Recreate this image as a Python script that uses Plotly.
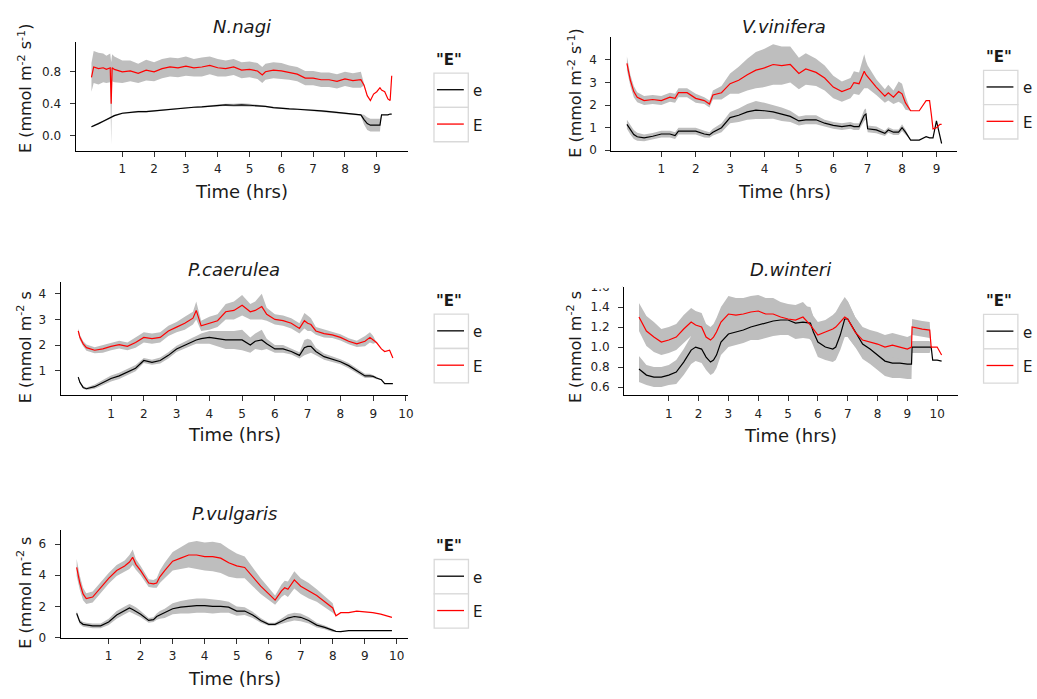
import plotly.graph_objects as go

W, H = 1037, 699
FONT = "DejaVu Sans"
RED = "#FF0000"
RIBBON = "#BEBEBE"

# ---------------- data ----------------
# N.nagi
nagi_t = [0.03, 0.1, 0.25, 0.4, 0.5, 0.62, 0.65, 0.68, 0.75, 1.0, 1.25, 1.5, 1.75, 2.0, 2.25, 2.5, 2.75, 3.0,
          3.25, 3.5, 3.75, 4.0, 4.25, 4.5, 4.75, 5.0, 5.25, 5.4, 5.5, 5.75, 6.0, 6.25, 6.5, 6.75, 7.0, 7.25,
          7.5, 7.75, 8.0, 8.25, 8.5, 8.6, 8.7, 8.8, 8.9, 9.0, 9.1, 9.15, 9.25, 9.35, 9.42, 9.47]
nagi_E = [0.73, 0.86, 0.84, 0.85, 0.83, 0.85, 0.40, 0.85, 0.83, 0.80, 0.81, 0.78, 0.82, 0.80, 0.84, 0.86, 0.85,
          0.87, 0.85, 0.86, 0.88, 0.85, 0.84, 0.86, 0.82, 0.83, 0.81, 0.76, 0.80, 0.82, 0.81, 0.79, 0.77, 0.72,
          0.72, 0.70, 0.70, 0.68, 0.71, 0.69, 0.70, 0.63, 0.50, 0.44, 0.52, 0.55, 0.60, 0.57, 0.55, 0.46, 0.44, 0.75]
nagi_E_sd = [0.18, 0.2, 0.2, 0.18, 0.17, 0.18, 0.52, 0.17, 0.16, 0.14, 0.13, 0.12, 0.13, 0.12, 0.12, 0.12, 0.12,
             0.12, 0.11, 0.12, 0.11, 0.11, 0.10, 0.10, 0.10, 0.10, 0.10, 0.10, 0.10, 0.10, 0.10, 0.09, 0.09, 0.09,
             0.09, 0.09, 0.09, 0.09, 0.09, 0.09, 0.10, 0, 0, 0, 0, 0, 0, 0, 0, 0, 0, 0]
nagi_e = [0.11, 0.12, 0.15, 0.18, 0.20, 0.22, 0.23, 0.24, 0.25, 0.28, 0.29, 0.30, 0.30, 0.31, 0.32, 0.33, 0.34,
          0.35, 0.355, 0.36, 0.37, 0.38, 0.385, 0.38, 0.385, 0.38, 0.375, 0.37, 0.365, 0.35, 0.34, 0.335, 0.33,
          0.325, 0.32, 0.31, 0.30, 0.29, 0.28, 0.27, 0.26, 0.20, 0.15, 0.13, 0.13, 0.13, 0.13, 0.26, 0.26, 0.26,
          0.27, 0.27]
nagi_e_sd = [0.01, 0.01, 0.01, 0.01, 0.01, 0.01, 0.01, 0.01, 0.01, 0.01, 0.01, 0.01, 0.01, 0.01, 0.01, 0.01, 0.01,
             0.01, 0.01, 0.01, 0.01, 0.015, 0.015, 0.02, 0.02, 0.02, 0.015, 0.01, 0.01, 0.01, 0.01, 0.01, 0.01,
             0.01, 0.01, 0.01, 0.01, 0.01, 0.01, 0.01, 0.01, 0.06, 0.08, 0.08, 0.08, 0.08, 0.08, 0, 0, 0, 0, 0]
nagi_xticks = [1, 2, 3, 4, 5, 6, 7, 8, 9]
nagi_yticks = [0.0, 0.4, 0.8]
nagi_yticklabels = ["0.0", "0.4", "0.8"]

# V.vinifera
vin_t = [0, 0.1, 0.2, 0.3, 0.5, 0.75, 1.0, 1.25, 1.4, 1.5, 1.75, 2.0, 2.25, 2.4, 2.5, 2.75, 3.0, 3.25, 3.5, 3.75,
         4.0, 4.25, 4.5, 4.75, 5.0, 5.2, 5.5, 5.75, 6.0, 6.25, 6.5, 6.6, 6.75, 6.9, 6.95, 7.0, 7.25, 7.5, 7.6,
         7.75, 7.9, 8.0, 8.1, 8.25, 8.5, 8.7, 8.8, 8.85, 8.9, 9.0, 9.05, 9.1, 9.15]
vin_E = [3.85, 3.1, 2.6, 2.35, 2.2, 2.25, 2.2, 2.35, 2.3, 2.55, 2.55, 2.3, 2.2, 2.05, 2.45, 2.55, 2.95, 3.1, 3.35,
         3.55, 3.65, 3.8, 3.75, 3.8, 3.4, 3.6, 3.45, 3.2, 2.8, 2.6, 2.75, 3.0, 2.95, 3.5, 3.35, 3.25, 2.8, 2.4,
         2.55, 2.35, 2.6, 2.5, 2.1, 1.75, 1.75, 2.2, 2.2, 1.6, 0.95, 1.0, 1.1, 1.15, 1.15]
vin_E_sd = [0.3, 0.25, 0.25, 0.22, 0.2, 0.2, 0.2, 0.2, 0.2, 0.2, 0.2, 0.2, 0.15, 0.15, 0.2, 0.3, 0.45, 0.6, 0.7,
            0.8, 0.85, 0.9, 0.85, 0.8, 0.7, 0.7, 0.6, 0.55, 0.5, 0.45, 0.45, 0.5, 0.5, 0.75, 0.6, 0.5, 0.35, 0.3,
            0.35, 0.3, 0.45, 0.45, 0.3, 0, 0, 0, 0, 0, 0, 0, 0, 0, 0]
vin_e = [1.15, 0.9, 0.7, 0.6, 0.55, 0.62, 0.72, 0.72, 0.65, 0.85, 0.85, 0.85, 0.72, 0.68, 0.8, 1.0, 1.45, 1.55,
         1.7, 1.78, 1.75, 1.7, 1.6, 1.5, 1.3, 1.35, 1.35, 1.2, 1.1, 1.05, 1.1, 1.05, 1.05, 1.55, 1.6, 0.95, 0.9,
         0.75, 0.9, 0.8, 0.8, 1.0, 0.8, 0.45, 0.45, 0.6, 0.55, 0.55, 0.55, 1.3, 1.0, 0.6, 0.3]
vin_e_sd = [0.2, 0.2, 0.2, 0.18, 0.15, 0.15, 0.15, 0.15, 0.15, 0.15, 0.15, 0.15, 0.15, 0.12, 0.15, 0.2, 0.25, 0.3,
            0.35, 0.4, 0.35, 0.3, 0.3, 0.25, 0.2, 0.2, 0.2, 0.15, 0.15, 0.15, 0.15, 0.15, 0.15, 0.25, 0.25, 0.15,
            0.15, 0.12, 0.12, 0.12, 0.12, 0.15, 0.12, 0, 0, 0, 0, 0, 0, 0, 0, 0, 0]
vin_xticks = [1, 2, 3, 4, 5, 6, 7, 8, 9]
vin_yticks = [0, 1, 2, 3, 4]
vin_yticklabels = ["0", "1", "2", "3", "4"]

# P.caerulea
cae_t = [0, 0.05, 0.15, 0.25, 0.5, 0.75, 1.0, 1.25, 1.5, 1.75, 2.0, 2.25, 2.5, 2.75, 3.0, 3.25, 3.5, 3.6, 3.75,
         4.0, 4.25, 4.5, 4.75, 5.0, 5.25, 5.4, 5.6, 5.75, 6.0, 6.25, 6.5, 6.75, 6.9, 7.0, 7.1, 7.25, 7.5, 7.75,
         8.0, 8.25, 8.5, 8.75, 8.9, 9.0, 9.1, 9.25, 9.35, 9.5, 9.6]
cae_E = [2.55, 2.3, 2.05, 1.9, 1.8, 1.85, 1.95, 2.02, 1.95, 2.1, 2.3, 2.25, 2.3, 2.55, 2.7, 2.85, 3.05, 3.35, 2.75,
         2.85, 2.95, 3.3, 3.35, 3.55, 3.3, 3.35, 3.5, 3.2, 3.0, 2.95, 2.85, 2.65, 2.95, 2.85, 2.8, 2.55, 2.45, 2.4,
         2.3, 2.15, 2.05, 2.15, 2.3, 2.2, 2.1, 1.85, 1.75, 1.8, 1.5]
cae_E_sd = [0.1, 0.1, 0.1, 0.12, 0.12, 0.15, 0.15, 0.15, 0.15, 0.2, 0.2, 0.2, 0.2, 0.2, 0.2, 0.25, 0.25, 0.35, 0.2,
            0.25, 0.25, 0.3, 0.35, 0.4, 0.3, 0.35, 0.5, 0.25, 0.2, 0.2, 0.2, 0.2, 0.3, 0.3, 0.25, 0.15, 0.15, 0.12,
            0.12, 0.12, 0.12, 0.2, 0.2, 0.15, 0, 0, 0, 0, 0]
cae_e = [0.75, 0.55, 0.35, 0.3, 0.38, 0.55, 0.7, 0.8, 0.95, 1.1, 1.4, 1.33, 1.4, 1.6, 1.85, 2.0, 2.15, 2.2, 2.25,
         2.3, 2.25, 2.2, 2.2, 2.2, 2.0, 2.15, 2.2, 2.05, 1.85, 1.85, 1.75, 1.6, 1.9, 1.95, 1.95, 1.75, 1.55, 1.45,
         1.35, 1.2, 1.0, 0.8, 0.8, 0.78, 0.72, 0.65, 0.5, 0.5, 0.5]
cae_e_sd = [0.05, 0.05, 0.05, 0.05, 0.08, 0.1, 0.12, 0.12, 0.12, 0.12, 0.1, 0.1, 0.12, 0.12, 0.12, 0.15, 0.15,
            0.15, 0.2, 0.25, 0.3, 0.35, 0.35, 0.4, 0.3, 0.3, 0.4, 0.2, 0.15, 0.15, 0.12, 0.12, 0.3, 0.3, 0.25,
            0.15, 0.12, 0.12, 0.1, 0.1, 0.1, 0.08, 0.08, 0.06, 0.05, 0, 0, 0, 0]
cae_xticks = [1, 2, 3, 4, 5, 6, 7, 8, 9, 10]
cae_yticks = [1, 2, 3, 4]
cae_yticklabels = ["1", "2", "3", "4"]

# D.winteri
win_t = [0, 0.25, 0.5, 0.75, 1.0, 1.25, 1.5, 1.75, 1.9, 2.1, 2.25, 2.4, 2.5, 2.6, 2.75, 3.0, 3.25, 3.5, 3.75, 4.0,
         4.25, 4.5, 4.75, 5.0, 5.25, 5.5, 5.75, 5.85, 6.0, 6.25, 6.5, 6.6, 6.75, 6.9, 7.0, 7.25, 7.5, 7.75, 8.0,
         8.25, 8.5, 8.75, 9.0, 9.14, 9.16, 9.5, 9.75, 9.8, 9.85, 10.0, 10.15]
win_E = [1.30, 1.16, 1.10, 1.05, 1.07, 1.10, 1.18, 1.25, 1.22, 1.20, 1.10, 1.07, 1.10, 1.15, 1.25, 1.33, 1.32,
         1.33, 1.35, 1.36, 1.33, 1.33, 1.30, 1.28, 1.27, 1.30, 1.22, 1.18, 1.12, 1.15, 1.18, 1.20, 1.25, 1.30,
         1.28, 1.15, 1.07, 1.05, 1.03, 1.00, 1.02, 1.00, 0.98, 1.00, 1.20, 1.18, 1.17, 1.00, 1.00, 1.00, 0.92]
win_E_sd = [0.14, 0.15, 0.15, 0.13, 0.13, 0.13, 0.14, 0.14, 0.14, 0.14, 0.13, 0.13, 0.13, 0.14, 0.15, 0.18, 0.17,
            0.16, 0.16, 0.16, 0.16, 0.16, 0.15, 0.15, 0.15, 0.15, 0.15, 0.13, 0.13, 0.12, 0.14, 0.15, 0.18, 0.2,
            0.18, 0.15, 0.13, 0.12, 0.12, 0.12, 0.12, 0.12, 0.12, 0.12, 0.08, 0.08, 0.08, 0, 0, 0, 0]
win_e = [0.78, 0.72, 0.70, 0.70, 0.72, 0.75, 0.85, 0.97, 1.00, 0.98, 0.90, 0.85, 0.87, 0.92, 1.05, 1.13, 1.15,
         1.17, 1.20, 1.22, 1.24, 1.26, 1.27, 1.27, 1.24, 1.25, 1.24, 1.15, 1.05, 1.00, 0.98, 1.00, 1.12, 1.28,
         1.28, 1.15, 1.03, 0.98, 0.92, 0.86, 0.84, 0.84, 0.83, 0.83, 1.00, 1.00, 1.00, 1.00, 0.87, 0.87, 0.86]
win_e_sd = [0.13, 0.1, 0.1, 0.1, 0.1, 0.12, 0.13, 0.14, 0.14, 0.14, 0.13, 0.13, 0.13, 0.13, 0.13, 0.13, 0.13,
            0.13, 0.13, 0.15, 0.15, 0.15, 0.15, 0.15, 0.16, 0.16, 0.16, 0.15, 0.15, 0.13, 0.13, 0.13, 0.15, 0.18,
            0.18, 0.15, 0.15, 0.15, 0.15, 0.15, 0.15, 0.15, 0.15, 0.15, 0.06, 0.06, 0.06, 0, 0, 0, 0]
win_xticks = [1, 2, 3, 4, 5, 6, 7, 8, 9, 10]
win_yticks = [0.6, 0.8, 1.0, 1.2, 1.4, 1.6]
win_yticklabels = ["0.6", "0.8", "1.0", "1.2", "1.4", "1.6"]

# P.vulgaris
vul_t = [0, 0.1, 0.2, 0.3, 0.5, 0.75, 1.0, 1.25, 1.5, 1.65, 1.75, 1.85, 2.0, 2.25, 2.4, 2.5, 2.6, 2.75, 3.0, 3.25,
         3.5, 3.75, 4.0, 4.25, 4.5, 4.75, 5.0, 5.25, 5.5, 5.75, 6.0, 6.2, 6.4, 6.5, 6.6, 6.8, 7.0, 7.25, 7.5, 7.75,
         8.0, 8.1, 8.25, 8.5, 8.75, 9.0, 9.25, 9.5, 9.75, 9.85]
vul_E = [4.5, 3.5, 2.8, 2.5, 2.6, 3.2, 3.8, 4.3, 4.6, 4.85, 5.15, 4.7, 4.3, 3.5, 3.45, 3.5, 3.9, 4.3, 4.9, 5.1,
         5.3, 5.3, 5.2, 5.2, 5.1, 4.8, 4.6, 4.5, 3.9, 3.3, 2.8, 2.4, 3.0, 3.2, 3.1, 3.7, 3.3, 3.0, 2.7, 2.3, 1.9,
         1.4, 1.6, 1.6, 1.7, 1.65, 1.6, 1.5, 1.35, 1.3]
vul_E_sd = [0.55, 0.45, 0.4, 0.35, 0.35, 0.35, 0.35, 0.35, 0.35, 0.45, 0.5, 0.35, 0.3, 0.25, 0.25, 0.3, 0.4, 0.5,
            0.6, 0.7, 0.8, 0.9, 0.9, 0.95, 0.95, 0.9, 0.8, 0.7, 0.6, 0.5, 0.4, 0.3, 0.4, 0.45, 0.5, 0.55, 0.5, 0.5,
            0.4, 0.35, 0.3, 0, 0, 0, 0, 0, 0, 0, 0, 0]
vul_e = [1.55, 1.0, 0.85, 0.8, 0.75, 0.75, 1.0, 1.45, 1.75, 1.9, 1.8, 1.7, 1.5, 1.1, 1.15, 1.35, 1.45, 1.55, 1.85,
         1.95, 2.0, 2.05, 2.05, 2.0, 2.0, 1.95, 1.7, 1.7, 1.45, 1.1, 0.85, 0.85, 1.05, 1.15, 1.25, 1.35, 1.3, 1.1,
         0.8, 0.65, 0.45, 0.4, 0.38, 0.45, 0.45, 0.45, 0.45, 0.45, 0.45, 0.45]
vul_e_sd = [0.15, 0.15, 0.15, 0.15, 0.15, 0.15, 0.2, 0.25, 0.25, 0.25, 0.25, 0.25, 0.2, 0.15, 0.15, 0.2, 0.25, 0.3,
            0.35, 0.4, 0.45, 0.45, 0.45, 0.45, 0.4, 0.35, 0.3, 0.25, 0.2, 0.15, 0.1, 0.1, 0.15, 0.2, 0.25, 0.25,
            0.25, 0.2, 0.15, 0.12, 0.1, 0, 0, 0, 0, 0, 0, 0, 0, 0]
vul_xticks = [1, 2, 3, 4, 5, 6, 7, 8, 9, 10]
vul_yticks = [0, 2, 4, 6]
vul_yticklabels = ["0", "2", "4", "6"]

series_names = ["e", "E"]
series_colors = ["black", RED]

YT_FULL = "E (mmol m<sup>-2</sup> s<sup>-1</sup>)"
YT_CUT = "E (mmol m<sup>-2</sup> s"

# ---------------- layout (pixel boxes) ----------------
panels = [
    dict(title="N.nagi", t=nagi_t, e=nagi_e, esd=nagi_e_sd, E=nagi_E, Esd=nagi_E_sd,
         px=(76, 410), py=(36.7, 147.7), xr=(-0.47, 9.97), yr=(-0.193, 1.173),
         xt=nagi_xticks, yt=nagi_yticks, ytl=nagi_yticklabels,
         ytitle=YT_FULL, ytx=25, ytb=152, xty=189.5, tty=21, leg=(436.5, 68.3)),
    dict(title="V.vinifera", t=vin_t, e=vin_e, esd=vin_e_sd, E=vin_E, Esd=vin_E_sd,
         px=(615, 963), py=(32, 147.7), xr=(-0.45, 9.61), yr=(-0.03, 5.0),
         xt=vin_xticks, yt=vin_yticks, ytl=vin_yticklabels,
         ytitle=YT_FULL, ytx=578, ytb=157, xty=189.5, tty=21, leg=(989.3, 65.5)),
    dict(title="P.caerulea", t=cae_t, e=cae_e, esd=cae_e_sd, E=cae_E, Esd=cae_E_sd,
         px=(61, 410), py=(281.7, 396.7), xr=(-0.537, 10.05), yr=(0.043, 4.44),
         xt=cae_xticks, yt=cae_yticks, ytl=cae_yticklabels,
         ytitle=YT_CUT, ytx=25, ytb=407, xty=437, tty=269, leg=(436.7, 314)),
    dict(title="D.winteri", t=win_t, e=win_e, esd=win_e_sd, E=win_E, Esd=win_E_sd,
         px=(627.7, 963.3), py=(286, 396.7), xr=(-0.5, 10.69), yr=(0.518, 1.603),
         xt=win_xticks, yt=win_yticks, ytl=win_yticklabels,
         ytitle=YT_CUT, ytx=578, ytb=407, xty=438, tty=269, leg=(989.3, 314.3)),
    dict(title="P.vulgaris", t=vul_t, e=vul_e, esd=vul_e_sd, E=vul_E, Esd=vul_E_sd,
         px=(61, 410), py=(534, 644), xr=(-0.5, 10.34), yr=(-0.03, 6.9),
         xt=vul_xticks, yt=vul_yticks, ytl=vul_yticklabels,
         ytitle=YT_CUT, ytx=25, ytb=657, xty=685.5, tty=517, leg=(436.7, 564)),
]


def fx(p):
    return p / W


def fy(p):
    return 1 - p / H


fig = go.Figure()
annotations = []
shapes = []
layout_axes = {}

for i, p in enumerate(panels, start=1):
    xa = "x" if i == 1 else f"x{i}"
    ya = "y" if i == 1 else f"y{i}"
    t = p["t"]
    for mean, sd in ((p["e"], p["esd"]), (p["E"], p["Esd"])):
        assert len(mean) == len(t) and len(sd) == len(t), (p["title"], len(t), len(mean), len(sd))
        upper = [m + s for m, s in zip(mean, sd)]
        lower = [m - s for m, s in zip(mean, sd)]
        fig.add_trace(go.Scatter(x=list(t) + list(t)[::-1], y=upper + lower[::-1],
                                 fill="toself", fillcolor=RIBBON, line=dict(width=0),
                                 mode="lines", hoverinfo="skip", showlegend=False,
                                 xaxis=xa, yaxis=ya))
    for name, color, mean in zip(series_names, series_colors, (p["e"], p["E"])):
        fig.add_trace(go.Scatter(x=t, y=mean, mode="lines", name=name,
                                 line=dict(color=color, width=1.2), showlegend=False,
                                 xaxis=xa, yaxis=ya))

    axis_common = dict(showgrid=False, zeroline=False, showline=True, linecolor="black", linewidth=1.1,
                       ticks="outside", ticklen=5, tickwidth=1, tickcolor="#333333",
                       tickfont=dict(family=FONT, size=12, color="#222222"), fixedrange=True)
    layout_axes["xaxis" if i == 1 else f"xaxis{i}"] = dict(
        domain=[fx(p["px"][0]), fx(p["px"][1])], range=list(p["xr"]), anchor=ya,
        tickmode="array", tickvals=p["xt"], ticktext=[str(v) for v in p["xt"]],
        ticklabelstandoff=2, **axis_common)
    layout_axes["yaxis" if i == 1 else f"yaxis{i}"] = dict(
        domain=[fy(p["py"][1]), fy(p["py"][0])], range=list(p["yr"]), anchor=xa,
        tickmode="array", tickvals=p["yt"], ticktext=p["ytl"],
        ticklabelstandoff=6, **axis_common)

    cx = (p["px"][0] + p["px"][1]) / 2
    # panel title
    annotations.append(dict(text=f"<i>{p['title']}</i>", x=fx(cx), y=fy(p["tty"]), xref="paper", yref="paper",
                            xanchor="center", yanchor="middle", showarrow=False,
                            font=dict(family=FONT, size=18, color="#1a1a1a")))
    # x-axis title
    annotations.append(dict(text="Time (hrs)", x=fx(cx), y=fy(p["xty"]), xref="paper", yref="paper",
                            xanchor="center", yanchor="middle", showarrow=False,
                            font=dict(family=FONT, size=18, color="#1a1a1a")))
    # y-axis title
    annotations.append(dict(text=p["ytitle"], x=fx(p["ytx"]), y=fy(p["ytb"]), xref="paper", yref="paper",
                            xanchor="center", yanchor="bottom", textangle=-90, showarrow=False,
                            font=dict(family=FONT, size=16, color="#1a1a1a")))

    # legend (ggplot-style key boxes)
    lx, ly = p["leg"]
    kw, kh = 34.5, 35
    annotations.append(dict(text='<b>"E"</b>', x=fx(lx), y=fy(ly - 13.5), xref="paper", yref="paper",
                            xanchor="left", yanchor="middle", showarrow=False,
                            font=dict(family=FONT, size=15, color="#1a1a1a")))
    for k, (name, color) in enumerate(zip(series_names, series_colors)):
        top = ly + k * kh
        shapes.append(dict(type="rect", xref="paper", yref="paper",
                           x0=fx(lx), x1=fx(lx + kw), y0=fy(top + kh), y1=fy(top),
                           line=dict(color="#D9D9D9", width=1.3), fillcolor="white", layer="above"))
        shapes.append(dict(type="line", xref="paper", yref="paper",
                           x0=fx(lx + 3), x1=fx(lx + 30), y0=fy(top + kh / 2 - 0.5), y1=fy(top + kh / 2 - 0.5),
                           line=dict(color=color, width=1.3), layer="above"))
        annotations.append(dict(text=name, x=fx(lx + kw + 3), y=fy(top + kh / 2 + 1), xref="paper", yref="paper",
                                xanchor="left", yanchor="middle", showarrow=False,
                                font=dict(family=FONT, size=15, color="#1a1a1a")))

# the top of D.winteri's "1.6" label is cut off in the original
shapes.append(dict(type="rect", xref="paper", yref="paper", x0=fx(585), x1=fx(626.5), y0=fy(287.5), y1=fy(277),
                   line=dict(width=0), fillcolor="white", layer="above"))

fig.update_layout(width=W, height=H, margin=dict(l=0, r=0, t=0, b=0),
                  paper_bgcolor="white", plot_bgcolor="white", showlegend=False,
                  font=dict(family=FONT, color="#1a1a1a"),
                  annotations=annotations, shapes=shapes, **layout_axes)

fig.write_html("out.html")
